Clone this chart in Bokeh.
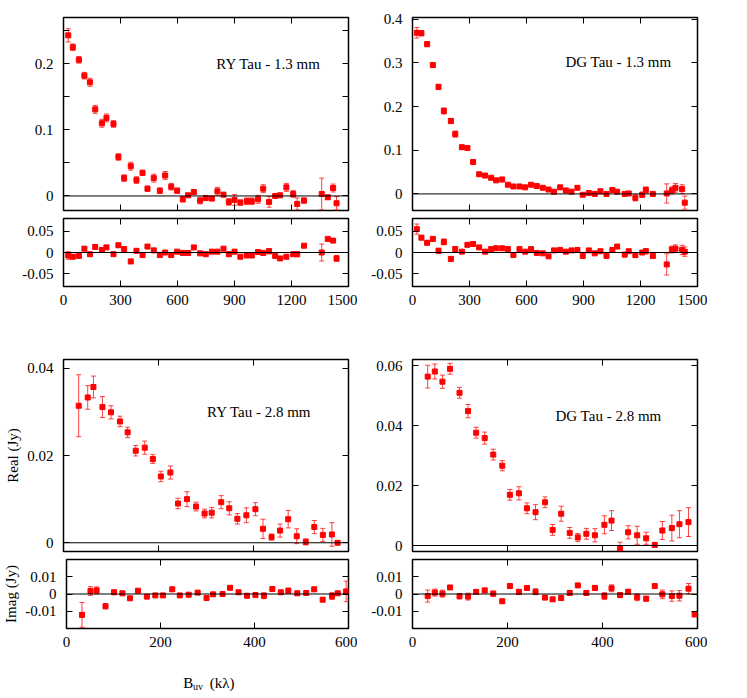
from bokeh.plotting import figure
from bokeh.models import (Range1d, FixedTicker, LinearAxis, Span, Label, Whisker,
                          TeeHead, ColumnDataSource, CustomJSTickFormatter)
from bokeh.core.properties import value
from bokeh.layouts import column, row
from bokeh.embed import file_html
from bokeh.resources import INLINE

FONT = "Liberation Serif"
TICK_FONT = "'Liberation Serif', 'Times New Roman', serif"

# ---------------- data ----------------
# RY Tau 1.3 mm
ry13_uv = [25, 49, 81, 110, 139, 167, 202, 226, 263, 289, 319, 354, 384, 416, 442, 475, 507, 535,
           567, 598, 628, 656, 686, 719, 749, 781, 810, 842, 870, 900, 931, 965, 991, 1024, 1051,
           1082, 1114, 1140, 1173, 1209, 1230, 1266, 1359, 1391, 1419, 1437]
ry13_re = [0.243, 0.225, 0.206, 0.182, 0.172, 0.131, 0.110, 0.118, 0.109, 0.059, 0.027, 0.045,
           0.024, 0.035, 0.011, 0.027, 0.008, 0.031, 0.014, 0.008, -0.005, 0.001, 0.006, -0.007,
           -0.003, -0.004, 0.007, 0.002, -0.009, -0.006, -0.010, -0.008, -0.008, -0.005, 0.011,
           -0.009, 0.000, 0.001, 0.013, 0.003, -0.012, -0.007, 0.003, -0.002, 0.012, -0.011]
ry13_re_err = [0.010, 0.005, 0.005, 0.005, 0.006, 0.006, 0.006, 0.006, 0.005, 0.005, 0.005, 0.006,
               0.005, 0.004, 0.004, 0.006, 0.004, 0.006, 0.005, 0.004, 0.004, 0.003, 0.003, 0.005,
               0.003, 0.003, 0.006, 0.003, 0.005, 0.008, 0.004, 0.005, 0.005, 0.006, 0.006, 0.008,
               0.003, 0.003, 0.006, 0.005, 0.009, 0.004, 0.024, 0.003, 0.006, 0.010]
ry13_im = [-0.007, -0.010, -0.008, 0.009, -0.004, 0.013, 0.006, 0.012, -0.004, 0.017, 0.008, -0.021,
           0.004, -0.006, 0.014, 0.005, -0.006, 0.000, -0.006, 0.002, -0.001, -0.001, 0.012, -0.002,
           -0.004, 0.002, 0.002, 0.009, -0.004, 0.002, -0.010, -0.007, -0.007, 0.001, -0.001, 0.003,
           -0.008, -0.014, -0.010, -0.004, -0.004, 0.016, 0.000, 0.032, 0.028, -0.014]
ry13_im_err = [0.009, 0.004, 0.004, 0.004, 0.004, 0.005, 0.005, 0.005, 0.004, 0.005, 0.005, 0.005,
               0.004, 0.004, 0.004, 0.005, 0.004, 0.004, 0.004, 0.003, 0.003, 0.003, 0.003, 0.003,
               0.003, 0.003, 0.003, 0.003, 0.003, 0.004, 0.003, 0.003, 0.003, 0.003, 0.003, 0.006,
               0.003, 0.003, 0.004, 0.004, 0.006, 0.003, 0.020, 0.003, 0.004, 0.007]

# DG Tau 1.3 mm
dg13_uv = [23, 47, 77, 107, 137, 165, 202, 225, 260, 289, 319, 351, 382, 414, 440, 472, 502, 531,
           563, 593, 624, 654, 686, 716, 745, 777, 807, 837, 868, 896, 928, 959, 989, 1021, 1052,
           1077, 1117, 1138, 1173, 1209, 1228, 1265, 1338, 1365, 1384, 1419, 1433]
dg13_re = [0.369, 0.368, 0.343, 0.295, 0.245, 0.190, 0.167, 0.137, 0.107, 0.105, 0.073, 0.045,
           0.042, 0.037, 0.031, 0.033, 0.021, 0.017, 0.017, 0.015, 0.021, 0.018, 0.014, 0.010,
           0.005, 0.015, 0.008, 0.005, 0.014, -0.002, 0.002, 0.000, 0.006, 0.000, 0.009, 0.005,
           0.000, 0.001, -0.009, -0.002, 0.009, 0.000, 0.001, 0.008, 0.014, 0.011, -0.020]
dg13_re_err = [0.012, 0.006, 0.006, 0.005, 0.006, 0.007, 0.006, 0.007, 0.004, 0.004, 0.005, 0.004,
               0.003, 0.003, 0.004, 0.005, 0.003, 0.003, 0.003, 0.003, 0.003, 0.003, 0.003, 0.003,
               0.003, 0.004, 0.003, 0.003, 0.004, 0.003, 0.003, 0.003, 0.005, 0.003, 0.005, 0.004,
               0.003, 0.003, 0.007, 0.006, 0.007, 0.003, 0.022, 0.008, 0.010, 0.010, 0.015]
dg13_im = [0.055, 0.035, 0.023, 0.032, 0.004, 0.025, -0.015, 0.008, 0.002, 0.018, 0.020, 0.012,
           0.002, 0.008, 0.010, 0.010, 0.008, -0.006, 0.008, 0.002, 0.008, -0.001, -0.002, -0.009,
           0.005, 0.006, 0.002, 0.005, 0.006, -0.008, 0.005, -0.002, 0.003, -0.008, 0.006, 0.014,
           -0.005, 0.003, -0.006, 0.000, 0.003, -0.008, -0.028, 0.007, 0.009, 0.006, 0.002]
dg13_im_err = [0.012, 0.005, 0.005, 0.005, 0.006, 0.007, 0.005, 0.006, 0.003, 0.004, 0.004, 0.004,
               0.003, 0.003, 0.003, 0.003, 0.003, 0.003, 0.003, 0.003, 0.003, 0.003, 0.003, 0.003,
               0.003, 0.003, 0.003, 0.003, 0.003, 0.003, 0.003, 0.003, 0.004, 0.003, 0.003, 0.003,
               0.003, 0.003, 0.006, 0.004, 0.006, 0.003, 0.025, 0.008, 0.009, 0.011, 0.011]

# RY Tau 2.8 mm
ry28_uv_re = [32, 51, 63, 82, 100, 119, 135, 152, 171, 188, 205, 225, 241, 260, 279, 297, 312, 332,
              349, 366, 385, 404, 420, 438, 456, 473, 491, 510, 528, 546, 565, 577]
ry28_re = [0.0314, 0.0333, 0.0357, 0.0311, 0.0299, 0.0278, 0.0253, 0.0211, 0.0218, 0.0192, 0.0152,
           0.0161, 0.0090, 0.0100, 0.0083, 0.0067, 0.0069, 0.0093, 0.0079, 0.0055, 0.0063, 0.0077,
           0.0032, 0.0013, 0.0028, 0.0054, 0.0015, 0.0002, 0.0036, 0.0018, 0.0019, 0.0000]
ry28_re_err = [0.0071, 0.0027, 0.0025, 0.0024, 0.0015, 0.0012, 0.0012, 0.0012, 0.0015, 0.0010,
               0.0012, 0.0015, 0.0012, 0.0017, 0.0010, 0.0010, 0.0012, 0.0015, 0.0015, 0.0012,
               0.0017, 0.0015, 0.0022, 0.0007, 0.0015, 0.0020, 0.0017, 0.0007, 0.0015, 0.0015,
               0.0027, 0.0003]
ry28_uv_im = [33, 51, 64, 83, 101, 119, 135, 152, 171, 189, 205, 225, 241, 260, 279, 298, 312, 332,
              348, 366, 384, 402, 420, 438, 456, 472, 491, 510, 527, 545, 565, 577, 595]
ry28_im = [-0.0121, 0.0017, 0.0021, -0.0071, 0.0010, 0.0004, -0.0025, 0.0019, -0.0015, -0.0008,
           -0.0008, 0.0027, -0.0008, -0.0004, 0.0008, -0.0023, -0.0002, 0.0000, 0.0036, 0.0010,
           -0.0010, -0.0006, -0.0010, 0.0029, 0.0010, 0.0019, 0.0004, 0.0006, 0.0027, -0.0033,
           -0.0012, 0.0004, 0.0015]
ry28_im_err = [0.0072, 0.0025, 0.0020, 0.0015, 0.0012, 0.0010, 0.0010, 0.0010, 0.0012, 0.0010,
               0.0010, 0.0012, 0.0010, 0.0012, 0.0010, 0.0010, 0.0010, 0.0010, 0.0012, 0.0010,
               0.0012, 0.0012, 0.0017, 0.0007, 0.0010, 0.0015, 0.0012, 0.0007, 0.0012, 0.0010,
               0.0020, 0.0007, 0.0060]

# DG Tau 2.8 mm
dg28_uv_re = [32, 47, 63, 79, 99, 117, 134, 152, 170, 189, 205, 224, 241, 259, 279, 295, 313, 331,
              348, 366, 384, 404, 419, 437, 454, 473, 492, 510, 526, 546, 562, 581]
dg28_re = [0.0563, 0.0580, 0.0546, 0.0589, 0.0509, 0.0448, 0.0376, 0.0358, 0.0303, 0.0266, 0.0169,
           0.0174, 0.0124, 0.0111, 0.0144, 0.0052, 0.0106, 0.0042, 0.0027, 0.0039, 0.0034, 0.0069,
           0.0083, -0.0009, 0.0044, 0.0034, 0.0024, 0.0002, 0.0050, 0.0058, 0.0071, 0.0078]
dg28_re_err = [0.0038, 0.0025, 0.0022, 0.0018, 0.0018, 0.0022, 0.0018, 0.0020, 0.0018, 0.0017,
               0.0018, 0.0022, 0.0018, 0.0025, 0.0018, 0.0018, 0.0025, 0.0018, 0.0013, 0.0018,
               0.0022, 0.0030, 0.0033, 0.0020, 0.0022, 0.0030, 0.0020, 0.0004, 0.0030, 0.0043,
               0.0045, 0.0048]
dg28_uv_im = [32, 47, 63, 79, 99, 117, 134, 152, 170, 189, 205, 224, 241, 259, 279, 295, 313, 331,
              348, 366, 384, 404, 419, 437, 454, 473, 492, 510, 526, 546, 562, 581, 594]
dg28_im = [-0.0012, 0.0008, 0.0002, 0.0038, -0.0013, -0.0015, 0.0012, 0.0021, 0.0002, -0.0042,
           0.0046, 0.0012, 0.0035, 0.0013, -0.0021, -0.0031, -0.0023, 0.0006, 0.0050, 0.0006,
           0.0035, -0.0012, 0.0033, -0.0006, 0.0013, -0.0019, -0.0027, 0.0046, -0.0002, -0.0012,
           -0.0010, 0.0031, -0.0119]
dg28_im_err = [0.0035, 0.0020, 0.0020, 0.0010, 0.0015, 0.0020, 0.0013, 0.0013, 0.0015, 0.0010,
               0.0012, 0.0015, 0.0013, 0.0017, 0.0010, 0.0010, 0.0015, 0.0013, 0.0007, 0.0013,
               0.0015, 0.0020, 0.0020, 0.0015, 0.0013, 0.0020, 0.0013, 0.0005, 0.0025, 0.0030,
               0.0030, 0.0030, 0.0010]

# tick positions
x_ticks_13 = [0, 300, 600, 900, 1200, 1500]
x_ticks_28 = [0, 200, 400, 600]
y_ticks_ry13 = [0, 0.1, 0.2]
y_minor_ry13 = [0.05, 0.15, 0.25]
y_ticks_dg13 = [0, 0.1, 0.2, 0.3, 0.4]
y_ticks_im13 = [-0.05, 0, 0.05]
y_ticks_ry28 = [0, 0.02, 0.04]
y_ticks_dg28 = [0, 0.02, 0.04, 0.06]
y_ticks_im28 = [-0.01, 0, 0.01]


def style_axis(ax, ticks, minor=None, labels=True, standoff=10):
    ax.ticker = FixedTicker(ticks=ticks, minor_ticks=minor or [])
    ax.axis_line_color = None
    ax.major_tick_in = 6
    ax.major_tick_out = 0
    ax.minor_tick_in = 6
    ax.minor_tick_out = 0
    ax.major_tick_line_color = "black"
    ax.minor_tick_line_color = "black"
    ax.major_tick_line_width = 1
    ax.formatter = CustomJSTickFormatter(code="return tick.toString();")
    if labels:
        ax.major_label_text_font = TICK_FONT
        ax.major_label_text_font_size = "15px"
        ax.major_label_text_font_style = "normal"
        ax.major_label_text_color = "black"
        ax.major_label_standoff = standoff
    else:
        ax.major_label_text_font_size = "1px"
        ax.major_label_text_color = None
        ax.major_label_standoff = 0


def panel(x, y, err, xr, yr, xt, yt, ym, xlabels, w, h, bl, br, bt, bb):
    p = figure(width=w, height=h, x_range=Range1d(*xr), y_range=Range1d(*yr),
               output_backend="svg", toolbar_location=None,
               min_border_left=bl, min_border_right=br, min_border_top=bt, min_border_bottom=bb)
    p.grid.visible = False
    p.outline_line_color = "black"
    p.outline_line_width = 1.5
    p.background_fill_color = "white"
    p.border_fill_color = "white"
    style_axis(p.xaxis[0], xt, labels=xlabels, standoff=8)
    style_axis(p.yaxis[0], yt, ym, labels=True, standoff=10)
    top = LinearAxis()
    style_axis(top, xt, labels=False)
    p.add_layout(top, "above")
    right = LinearAxis()
    style_axis(right, yt, ym, labels=False)
    p.add_layout(right, "right")
    p.add_layout(Span(location=0, dimension="width", line_color="black", line_width=1))
    lower = [a - b for a, b in zip(y, err)]
    upper = [a + b for a, b in zip(y, err)]
    src = ColumnDataSource(dict(x=x, y=y, lower=lower, upper=upper))
    p.add_layout(Whisker(source=src, base="x", lower="lower", upper="upper",
                         line_color="#ff2020", line_width=1, line_alpha=0.85,
                         upper_head=TeeHead(size=5, line_color="#ff2020", line_width=1, line_alpha=0.85),
                         lower_head=TeeHead(size=5, line_color="#ff2020", line_width=1, line_alpha=0.85)))
    p.scatter("x", "y", source=src, marker="square", size=5, color="#ff0000")
    return p


def add_text(p, x, y, text, size="15px"):
    p.add_layout(Label(x=x, y=y, text=text, text_font=FONT, text_font_size=size,
                       text_color="black", text_align="left", text_baseline="middle"))


def set_ylabel(p, text):
    ax = p.yaxis[0]
    ax.axis_label = text
    ax.axis_label_text_font = FONT
    ax.axis_label_text_font_size = "15px"
    ax.axis_label_text_font_style = "normal"
    ax.axis_label_text_color = "black"
    ax.axis_label_standoff = 3


W1, W2 = 357, 350
L1, R1, L2, R2 = 63, 9, 55, 10

p1 = panel(ry13_uv, ry13_re, ry13_re_err, (0, 1500), (-0.022, 0.27), x_ticks_13,
           y_ticks_ry13, y_minor_ry13, False, W1, 213, L1, R1, 17, 3)
p2 = panel(dg13_uv, dg13_re, dg13_re_err, (0, 1500), (-0.038, 0.404), x_ticks_13,
           y_ticks_dg13, None, False, W2, 213, L2, R2, 17, 3)
p3 = panel(ry13_uv, ry13_im, ry13_im_err, (0, 1500), (-0.08, 0.08), x_ticks_13,
           y_ticks_im13, None, True, W1, 99, L1, R1, 5, 26)
p4 = panel(dg13_uv, dg13_im, dg13_im_err, (0, 1500), (-0.08, 0.08), x_ticks_13,
           y_ticks_im13, None, True, W2, 99, L2, R2, 5, 26)
p5 = panel(ry28_uv_re, ry28_re, ry28_re_err, (0, 600), (-0.002, 0.042), x_ticks_28,
           y_ticks_ry28, None, False, W1, 243, L1, R1, 47, 4)
p6 = panel(dg28_uv_re, dg28_re, dg28_re_err, (0, 600), (-0.002, 0.062), x_ticks_28,
           y_ticks_dg28, None, False, W2, 243, L2, R2, 47, 4)
p7 = panel(ry28_uv_im, ry28_im, ry28_im_err, (0, 600), (-0.02, 0.02), x_ticks_28,
           y_ticks_im28, None, True, W1, 99, L1, R1, 4, 26)
p8 = panel(dg28_uv_im, dg28_im, dg28_im_err, (0, 600), (-0.02, 0.02), x_ticks_28,
           y_ticks_im28, None, True, W2, 99, L2, R2, 4, 26)

add_text(p1, 804, 0.2004, "RY Tau - 1.3 mm")
add_text(p2, 805, 0.301, "DG Tau - 1.3 mm")
add_text(p5, 302, 0.0299, "RY Tau - 2.8 mm")
add_text(p6, 301, 0.0433, "DG Tau - 2.8 mm")

set_ylabel(p5, "Real (Jy)")
set_ylabel(p7, "Imag (Jy)")

# bottom strip carrying the x-axis title B_uv (kλ)
strip = figure(width=W1 + W2, height=38, x_range=Range1d(0, W1 + W2), y_range=Range1d(38, 0),
               output_backend="svg", toolbar_location=None,
               min_border_left=0, min_border_right=0, min_border_top=0, min_border_bottom=0)
strip.axis.visible = False
strip.grid.visible = False
strip.outline_line_color = None
strip.text(x=[182.7, 209.3], y=[28.7, 28.7], text=["B", "(k\u03bb)"], text_font=value(FONT),
           text_font_size=value("15px"), text_baseline="alphabetic", text_align="left",
           text_color="black")
strip.text(x=[192.5], y=[32.3], text=["uv"], text_font=value(FONT),
           text_font_size=value("10px"), text_baseline="alphabetic", text_align="left",
           text_color="black")

layout = column(row(p1, p2), row(p3, p4), row(p5, p6), row(p7, p8), strip)
open("out.html", "w").write(file_html(layout, INLINE))
